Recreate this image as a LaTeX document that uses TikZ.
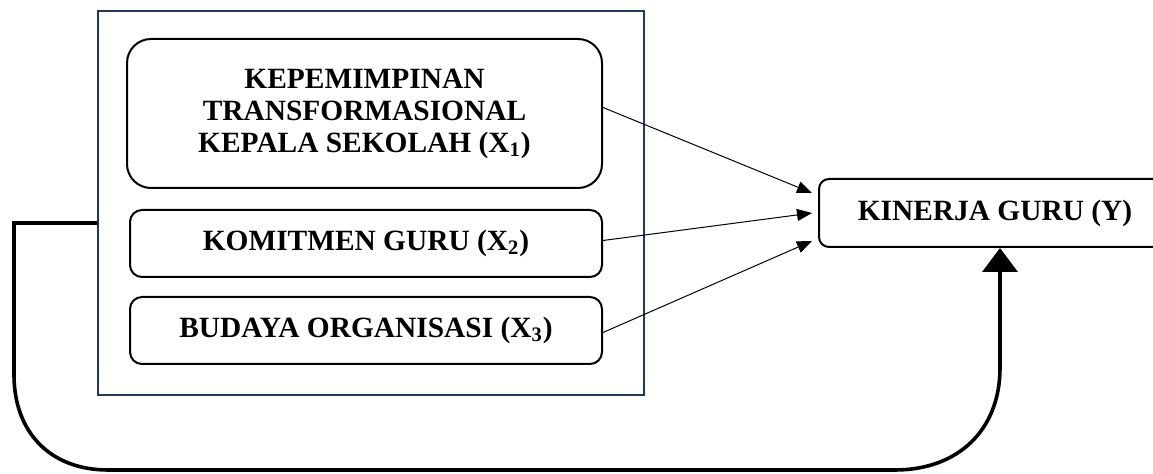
\documentclass[tikz,border=0pt]{standalone}
\usepackage{fontspec}
\setmainfont{Liberation Serif}
\usetikzlibrary{arrows.meta,calc}
\definecolor{framenavy}{HTML}{1F3864}
\begin{document}
\begin{tikzpicture}[x=0.5pt,y=-0.5pt,
  lbl/.style={font=\bfseries\fontsize{14.7}{16}\selectfont, align=center, inner sep=0pt},
  varbox/.style={lbl, draw=black, line width=1pt, rounded corners=6pt},
  outerframe/.style={draw=framenavy, line width=0.8pt, minimum width=273pt, minimum height=192pt, inner sep=0pt},
  thinarrow/.style={line width=0.5pt, -{Triangle[length=7.5pt,width=6pt]}},
  loop/.style={line width=1.8pt, -{Triangle[length=12pt,width=17.5pt]}}
]
\useasboundingbox (0,0) rectangle (1153,474);
\clip (0,0) rectangle (1153,474);

\node[outerframe] (frame) at (371,203) {};
\node[varbox, rounded corners=12pt, minimum width=237.5pt, minimum height=74.5pt] (b1) at (364.5,113.5)
  {KEPEMIMPINAN\\TRANSFORMASIONAL\\KEPALA SEKOLAH (X\textsubscript{1})};
\node[varbox, minimum width=236pt, minimum height=33.5pt] (b2) at (366,243.5) {KOMITMEN GURU (X\textsubscript{2})};
\node[varbox, minimum width=236pt, minimum height=33.5pt] (b3) at (366,330.5) {BUDAYA ORGANISASI (X\textsubscript{3})};
\node[varbox, rounded corners=5pt, minimum width=176pt, minimum height=34pt] (Y) at (995,213) {KINERJA GURU (Y)};

\draw[thinarrow] ([yshift=3pt]b1.east) -- ([xshift=-3pt,yshift=10pt]Y.west);
\draw[thinarrow] ([yshift=1.5pt]b2.east) -- ([xshift=-3pt]Y.west);
\draw[thinarrow] ([yshift=-1pt]b3.east) -- ([xshift=-3pt,yshift=-14pt]Y.west);

\coordinate (lp) at (0,223);
\coordinate (ax) at (1000,0);
\draw[loop] (frame.west |- lp) -- (14,223) -- (14,375)
  .. controls (14,432) and (50,470) .. (108,470)
  -- (895,470)
  .. controls (958,470) and (1000,430) .. (1000,368)
  -- (Y.south -| ax);
\end{tikzpicture}
\end{document}
